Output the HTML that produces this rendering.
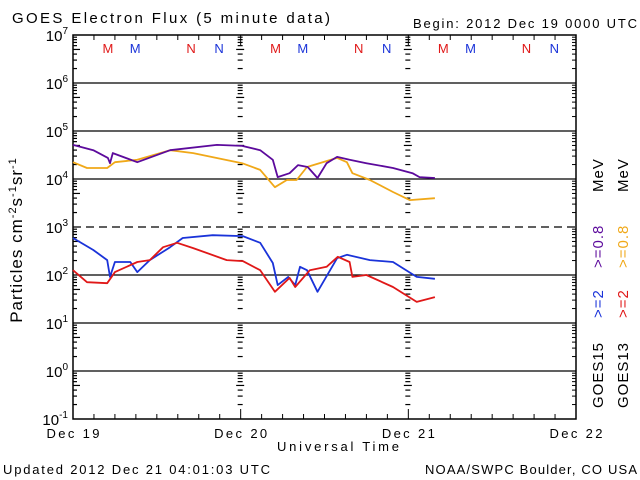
<!DOCTYPE html>
<html><head><meta charset="utf-8"><style>
html,body{margin:0;padding:0;background:#fff;}
svg{display:block;font-family:"Liberation Sans",sans-serif;}
</style></head><body>
<svg id="chart" width="640" height="480">
<text x="12" y="23" font-size="15" textLength="318" lengthAdjust="spacing">GOES Electron Flux (5 minute data)</text>
<text x="413" y="28" font-size="13" textLength="224" lengthAdjust="spacing">Begin: 2012 Dec 19 0000 UTC</text>
<text x="3" y="474" font-size="13" textLength="267" lengthAdjust="spacing">Updated 2012 Dec 21 04:01:03 UTC</text>
<text x="425" y="474" font-size="13" textLength="212" lengthAdjust="spacing">NOAA/SWPC Boulder, CO USA</text>
<text x="277" y="451" font-size="13" textLength="122" lengthAdjust="spacing">Universal Time</text>
<text transform="translate(22,240) rotate(-90)" font-size="17" text-anchor="middle" letter-spacing="1">Particles cm<tspan dy="-6" font-size="11">-2</tspan><tspan dy="6">s</tspan><tspan dy="-6" font-size="11">-1</tspan><tspan dy="6">sr</tspan><tspan dy="-6" font-size="11">-1</tspan></text>
<g id="grid"></g>
<g id="series"></g>
<g id="legend" font-size="15" letter-spacing="1">
<text transform="translate(603,408) rotate(-90)">GOES15</text>
<text transform="translate(603,318) rotate(-90)" fill="#1a33d9">&gt;=2</text>
<text transform="translate(603,268) rotate(-90)" fill="#5c0a9c">&gt;=0.8</text>
<text transform="translate(603,192) rotate(-90)">MeV</text>
<text transform="translate(628,408) rotate(-90)">GOES13</text>
<text transform="translate(628,318) rotate(-90)" fill="#e01818">&gt;=2</text>
<text transform="translate(628,268) rotate(-90)" fill="#f0a818">&gt;=0.8</text>
<text transform="translate(628,192) rotate(-90)">MeV</text>
</g>
</svg>
<script>
// Data (hours since 2012-12-19 00 UTC, log10 flux)
const g15e08Hours=[0,2.9,5,5.3,5.7,9.2,13.9,20.6,24.2,26.8,28.6,29.3,31,32.2,33.6,35,36.3,37.8,39.6,42,45.8,48.6,49.6,51.8];
const g15e08Log=[4.71,4.6,4.44,4.33,4.54,4.35,4.6,4.71,4.69,4.6,4.4,4.04,4.12,4.29,4.25,4.02,4.33,4.46,4.4,4.33,4.23,4.12,4.04,4.02];
const g13e08Hours=[0,2,4.9,6,9.2,13.9,17.2,24.2,26.8,28.9,30.6,32,33.5,37.8,39.2,40,42.5,45.8,48.2,51.8];
const g13e08Log=[4.35,4.23,4.23,4.35,4.4,4.6,4.54,4.33,4.19,3.83,3.98,3.98,4.25,4.44,4.35,4.12,3.98,3.73,3.56,3.6];
const g15e2Hours=[0,2.9,4.9,5.3,6,8.2,9.2,11,13.9,15.7,20,24.3,26.8,28.6,29.3,30.8,31.8,32.5,33.5,35,36.8,37.8,39.2,42.5,45.8,49.2,51.8];
const g15e2Log=[2.77,2.52,2.31,1.96,2.27,2.27,2.06,2.31,2.58,2.77,2.83,2.81,2.67,2.25,1.79,1.96,1.79,2.17,2.1,1.65,2.1,2.35,2.42,2.31,2.27,1.96,1.92];
const g13e2Hours=[0,2,4.9,6,9.2,11,12.9,14.9,17.2,22,24.3,26.8,28.9,31,31.8,33.9,36.3,37.9,39.6,40,42,45.8,49.2,51.8];
const g13e2Log=[2.1,1.85,1.83,2.06,2.27,2.31,2.58,2.67,2.56,2.31,2.29,2.1,1.65,1.94,1.75,2.1,2.17,2.38,2.27,1.96,2,1.75,1.44,1.54];
const decades=[7,6,5,4,3,2,1,0,-1];
const dayLabels=["Dec 19","Dec 20","Dec 21","Dec 22"];
const markerLetters=["M","M","N","N"];
const markerHours=[5,8.9,16.9,20.9];
const markerColors=["#e01818","#1a33d9","#e01818","#1a33d9"];

const X0=73,X1=576,Y0=35,Y1=419;
const xs=h=>X0+(X1-X0)*h/72;
const ys=l=>Y0+(7-l)*(Y1-Y0)/8;
const NS="http://www.w3.org/2000/svg";
function mk(tag,attrs,parent){const e=document.createElementNS(NS,tag);for(const k in attrs)e.setAttribute(k,attrs[k]);parent.appendChild(e);return e;}
const grid=document.getElementById('grid'),ser=document.getElementById('series');
const fr=mk('rect',{x:X0,y:Y0,width:X1-X0,height:Y1-Y0,fill:'none',stroke:'#000','stroke-width':1.5},grid);


decades.forEach(d=>{
  const y=ys(d);
  if(d<7&&d>-1){const ln=mk('line',{x1:X0,x2:X1,y1:y,y2:y,stroke:'#000','stroke-width':1.3,'stroke-dasharray':d===3?'8,5':'none'},grid);
    
    }
  const t=mk('text',{x:X0-5,y:y+6,'font-size':15,'text-anchor':'end'},grid);
  
  
  t.innerHTML='10<tspan dy="-7" font-size="10">'+d+'</tspan>';
  if(d>-1){for(let m=2;m<=9;m++){const yy=ys(d-1+Math.log10(m));
    [X0,xs(24),xs(48)].forEach((xx,i)=>{const w=(m===5?7:4);mk('line',{x1:i?xx-w/2-1:xx,x2:i?xx+w/2:xx+w,y1:yy,y2:yy,stroke:'#000','stroke-width':1.2},grid);});
    mk('line',{x1:X1-4,x2:X1,y1:yy,y2:yy,stroke:'#000'},grid);}}
});
for(let h=0;h<=72;h+=3){const x=xs(h),big=h%24===0;
  mk('line',{x1:x,x2:x,y1:Y1,y2:Y1-(big?10:5),stroke:'#000'},grid);
  mk('line',{x1:x,x2:x,y1:Y0,y2:Y0+(big?10:5),stroke:'#000'},grid);}
dayLabels.forEach((s,i)=>{const t=mk('text',{x:xs(24*i),y:438,'font-size':13,'text-anchor':'middle',textLength:53,lengthAdjust:'spacing'},grid);t.textContent=s;
  
  });
for(let d=0;d<3;d++)markerLetters.forEach((m,i)=>{const t=mk('text',{x:xs(d*24+markerHours[i]),y:53,'font-size':13,fill:markerColors[i],'text-anchor':'middle'},grid);t.textContent=m;
  
  });
function line(hs,ls,col,name){const p=mk('polyline',{points:hs.map((h,i)=>xs(h).toFixed(1)+','+ys(ls[i]).toFixed(1)).join(' '),fill:'none',stroke:col,'stroke-width':1.8,'stroke-linejoin':'round'},ser);
  
  }
line(g13e08Hours,g13e08Log,'#f0a818','series-goes13-0.8mev');
line(g15e08Hours,g15e08Log,'#5c0a9c','series-goes15-0.8mev');
line(g15e2Hours,g15e2Log,'#1a33d9','series-goes15-2mev');
line(g13e2Hours,g13e2Log,'#e01818','series-goes13-2mev');
</script>
</body></html>
